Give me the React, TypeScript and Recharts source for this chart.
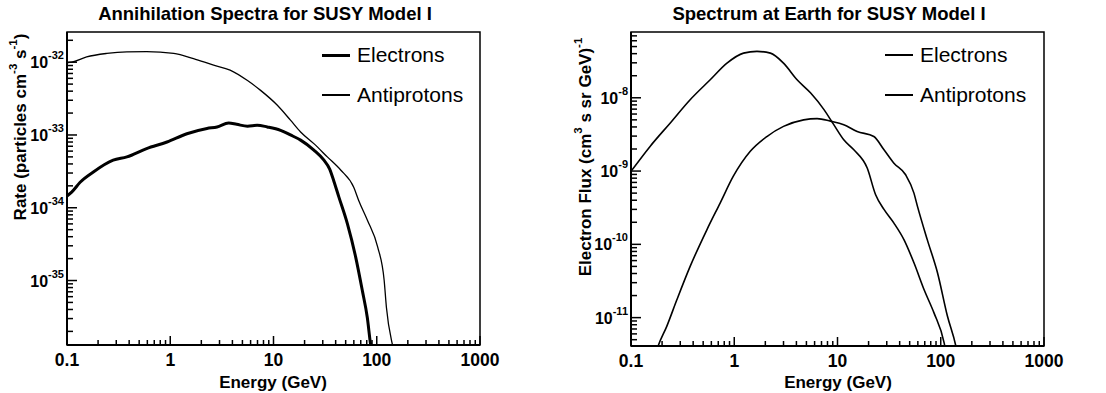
import React from "react"
import { LineChart, Line, XAxis, YAxis, ReferenceArea, Legend } from "recharts"

const FONT = '"Liberation Sans", Arial, Helvetica, sans-serif'

// Annihilation spectra (left panel), energy in GeV, rate in particles cm^-3 s^-1
const annElectronE = [0.1, 0.111, 0.134, 0.18, 0.28, 0.38, 0.59, 0.93, 1.45, 2.27, 2.84, 3.68, 4.4, 5.6, 6.95, 8.7, 11.7, 14.6, 18.3, 24.6, 30.8, 35, 38.5, 43, 52, 62.5, 72.6, 81, 87, 90]
const annElectronRate = [1.45e-34, 1.64e-34, 2.24e-34, 3.1e-34, 4.5e-34, 5.0e-34, 6.5e-34, 8.0e-34, 1.04e-33, 1.23e-33, 1.29e-33, 1.46e-33, 1.4e-33, 1.32e-33, 1.36e-33, 1.29e-33, 1.16e-33, 1.0e-33, 8.5e-34, 6.2e-34, 4.5e-34, 3.4e-34, 2.3e-34, 1.4e-34, 6.0e-35, 2.1e-35, 7.2e-36, 3.1e-36, 1.35e-36, 1.0e-36]
const annAntiprotonE = [0.1, 0.111, 0.155, 0.243, 0.38, 0.59, 1.08, 1.68, 2.63, 3.8, 5.6, 7.5, 10.9, 14.6, 18.3, 24.6, 33.2, 44.7, 60, 67, 81, 102, 118, 124, 142, 148]
const annAntiprotonRate = [9.8e-33, 1.0e-32, 1.18e-32, 1.32e-32, 1.39e-32, 1.4e-32, 1.32e-32, 1.12e-32, 9.1e-33, 7.8e-33, 5.6e-33, 4.1e-33, 2.56e-33, 1.6e-33, 1.1e-33, 7.6e-34, 5.0e-34, 3.3e-34, 1.9e-34, 1.25e-34, 6.8e-35, 2.9e-35, 1.0e-35, 4.3e-36, 1.3e-36, 1.0e-36]

// Spectrum at Earth (right panel), flux in (cm^3 s sr GeV)^-1
const earthElectronE = [0.1, 0.153, 0.239, 0.374, 0.585, 0.85, 1.23, 1.66, 2.24, 3.0, 4.06, 5.5, 7.4, 9.2, 11.5, 14.4, 19.4, 23.4, 28.2, 35.2, 44, 55, 69, 86, 108, 114]
const earthElectronFlux = [9.9e-10, 2.17e-9, 4.5e-9, 9.4e-9, 1.76e-8, 2.97e-8, 4.07e-8, 4.3e-8, 4.07e-8, 2.97e-8, 1.76e-8, 1.16e-8, 6.9e-9, 4.3e-9, 2.67e-9, 1.95e-9, 1.1e-9, 4.75e-10, 3.0e-10, 1.95e-10, 1.16e-10, 5.6e-11, 2.4e-11, 1.16e-11, 4.5e-12, 3.0e-12]
const earthAntiprotonE = [0.17, 0.183, 0.222, 0.278, 0.374, 0.543, 0.73, 0.98, 1.43, 2.07, 3.0, 4.7, 6.35, 8.55, 11.5, 15.5, 22.5, 28.2, 35.2, 45.7, 55, 59.5, 74, 93, 116, 140, 150]
const earthAntiprotonFlux = [3.0e-12, 4.1e-12, 7.6e-12, 1.75e-11, 5.0e-11, 1.58e-10, 3.66e-10, 8.5e-10, 1.86e-9, 2.96e-9, 4.07e-9, 5.0e-9, 5.2e-9, 4.8e-9, 4.3e-9, 3.47e-9, 2.96e-9, 1.95e-9, 1.28e-9, 8.9e-10, 5.0e-10, 3.3e-10, 1.16e-10, 4.1e-11, 1.05e-11, 4.1e-12, 2.5e-12]

const energyDomain = [0.1, 1000]
const annRateDomain = [1.3e-36, 2.6e-32]
const earthFluxDomain = [4.1e-12, 7.9e-8]

const zip = (xs: number[], ys: number[]) => xs.map((e, i) => ({ e, v: ys[i] }))

// log ticks: every m * 10^k inside the range (labels only on decades)
function logTicks(lo: number, hi: number) {
  const out: number[] = []
  for (let k = Math.floor(Math.log10(lo)); k <= Math.ceil(Math.log10(hi)); k++) {
    for (let m = 1; m <= 9; m++) {
      const v = m * Math.pow(10, k)
      if (v >= lo * 0.999 && v <= hi * 1.001) out.push(v)
    }
  }
  return out
}

const isDecade = (v: number) => {
  const l = Math.log10(v)
  return Math.abs(l - Math.round(l)) < 1e-6
}

const energyLabel = (v: number) => (v < 1 ? v.toFixed(1) : String(Math.round(v)))

const XTick = ({ x, y, payload }: any) => {
  const major = isDecade(payload.value)
  return (
    <g>
      <line x1={x} x2={x} y1={y} y2={y - (major ? 9 : 5)} stroke="#000" strokeWidth={1.5} />
      {major && (
        <text x={x} y={y + 21} textAnchor="middle" fontFamily={FONT} fontWeight="bold" fontSize={17.5} fill="#000">
          {energyLabel(payload.value)}
        </text>
      )}
    </g>
  )
}

const YTick = ({ x, y, payload }: any) => {
  const major = isDecade(payload.value)
  return (
    <g>
      <line x1={x} x2={x + (major ? 10 : 6)} y1={y} y2={y} stroke="#000" strokeWidth={1.5} />
      {major && (
        <text x={x - 3} y={y + 6} textAnchor="end" fontFamily={FONT} fontWeight="bold" fontSize={16} fill="#000">
          10
          <tspan dy={-9} fontSize={11}>
            {Math.round(Math.log10(payload.value))}
          </tspan>
        </text>
      )}
    </g>
  )
}

const LegendBox = ({ rows }: { rows: { name: string; w: number }[] }) => (
  <div style={{ fontFamily: FONT, fontSize: 21, color: "#000" }}>
    {rows.map((r) => (
      <div key={r.name} style={{ display: "flex", alignItems: "center", height: 40, whiteSpace: "nowrap" }}>
        <div style={{ width: 28, height: r.w, background: "#000", marginRight: 7 }} />
        <span>{r.name}</span>
      </div>
    ))}
  </div>
)

const Title = ({ text, cx }: { text: string; cx: number }) => (
  <div
    style={{
      position: "absolute",
      left: cx - 250,
      width: 500,
      top: 5,
      textAlign: "center",
      fontFamily: FONT,
      fontWeight: "bold",
      fontSize: 18.5,
      lineHeight: 1,
      color: "#000",
    }}
  >
    {text}
  </div>
)

const sup = (s: string) => (
  <tspan dy={-9} fontSize={11.5}>
    {s}
  </tspan>
)

const EnergyLabel = ({ cx }: { cx: number }) => (
  <text x={cx} y={388} textAnchor="middle" fontFamily={FONT} fontWeight="bold" fontSize={17} fill="#000">
    Energy (GeV)
  </text>
)

export default function App() {
  return (
    <div style={{ position: "absolute", left: 0, top: 0, width: 1106, height: 393, background: "#fff" }}>
      {/* Left: Annihilation spectra */}
      <div style={{ position: "absolute", left: 0, top: 0 }}>
        <LineChart width={550} height={393} margin={{ top: 32, right: 70, bottom: 8, left: 7 }}>
          <XAxis
            dataKey="e"
            type="number"
            scale="log"
            domain={energyDomain}
            allowDataOverflow
            ticks={logTicks(0.1, 1000)}
            interval={0}
            tick={<XTick />}
            tickLine={false}
            tickSize={0}
            tickMargin={0}
            height={40}
            axisLine={{ stroke: "#000", strokeWidth: 2 }}
            label={() => <EnergyLabel cx={273} />}
          />
          <YAxis
            dataKey="v"
            type="number"
            scale="log"
            domain={annRateDomain}
            allowDataOverflow
            ticks={logTicks(annRateDomain[0], annRateDomain[1])}
            interval={0}
            tick={<YTick />}
            tickLine={false}
            tickSize={0}
            tickMargin={0}
            width={60}
            axisLine={{ stroke: "#000", strokeWidth: 2 }}
            label={() => (
              <text
                x={26}
                y={127}
                transform="rotate(-90 26 127)"
                textAnchor="middle"
                fontFamily={FONT}
                fontWeight="bold"
                fontSize={17}
                fill="#000"
              >
                Rate (particles cm{sup("-3")}
                <tspan dy={9}> s</tspan>
                {sup("-1")}
                <tspan dy={9}>)</tspan>
              </text>
            )}
          />
          <ReferenceArea
            x1={energyDomain[0]}
            x2={energyDomain[1]}
            y1={annRateDomain[0]}
            y2={annRateDomain[1]}
            fill="none"
            stroke="#000"
            strokeWidth={1.5}
          />
          <Line
            data={zip(annAntiprotonE, annAntiprotonRate)}
            dataKey="v"
            name="Antiprotons"
            type="monotone"
            stroke="#000"
            strokeWidth={1.3}
            dot={false}
            isAnimationActive={false}
          />
          <Line
            data={zip(annElectronE, annElectronRate)}
            dataKey="v"
            name="Electrons"
            type="monotone"
            stroke="#000"
            strokeWidth={3}
            dot={false}
            isAnimationActive={false}
          />
          <Legend
            layout="vertical"
            align="center"
            verticalAlign="middle"
            wrapperStyle={{ left: 322, top: 35, width: 180 }}
            content={() => (
              <LegendBox
                rows={[
                  { name: "Electrons", w: 3 },
                  { name: "Antiprotons", w: 1.3 },
                ]}
              />
            )}
          />
        </LineChart>
        <Title text="Annihilation Spectra for SUSY Model I" cx={265} />
      </div>

      {/* Right: Spectrum at Earth */}
      <div style={{ position: "absolute", left: 550, top: 0 }}>
        <LineChart width={556} height={393} margin={{ top: 32, right: 62, bottom: 7, left: 21 }}>
          <XAxis
            dataKey="e"
            type="number"
            scale="log"
            domain={energyDomain}
            allowDataOverflow
            ticks={logTicks(0.1, 1000)}
            interval={0}
            tick={<XTick />}
            tickLine={false}
            tickSize={0}
            tickMargin={0}
            height={40}
            axisLine={{ stroke: "#000", strokeWidth: 2 }}
            label={() => <EnergyLabel cx={288} />}
          />
          <YAxis
            dataKey="v"
            type="number"
            scale="log"
            domain={earthFluxDomain}
            allowDataOverflow
            ticks={logTicks(earthFluxDomain[0], earthFluxDomain[1])}
            interval={0}
            tick={<YTick />}
            tickLine={false}
            tickSize={0}
            tickMargin={0}
            width={60}
            axisLine={{ stroke: "#000", strokeWidth: 2 }}
            label={() => (
              <text
                x={41}
                y={157}
                transform="rotate(-90 41 157)"
                textAnchor="middle"
                fontFamily={FONT}
                fontWeight="bold"
                fontSize={17}
                fill="#000"
              >
                Electron Flux (cm{sup("3")}
                <tspan dy={9}> s sr GeV)</tspan>
                {sup("-1")}
              </text>
            )}
          />
          <ReferenceArea
            x1={energyDomain[0]}
            x2={energyDomain[1]}
            y1={earthFluxDomain[0]}
            y2={earthFluxDomain[1]}
            fill="none"
            stroke="#000"
            strokeWidth={1.5}
          />
          <Line
            data={zip(earthElectronE, earthElectronFlux)}
            dataKey="v"
            name="Electrons"
            type="monotone"
            stroke="#000"
            strokeWidth={1.6}
            dot={false}
            isAnimationActive={false}
          />
          <Line
            data={zip(earthAntiprotonE, earthAntiprotonFlux)}
            dataKey="v"
            name="Antiprotons"
            type="monotone"
            stroke="#000"
            strokeWidth={1.6}
            dot={false}
            isAnimationActive={false}
          />
          <Legend
            layout="vertical"
            align="center"
            verticalAlign="middle"
            wrapperStyle={{ left: 335, top: 35, width: 180 }}
            content={() => (
              <LegendBox
                rows={[
                  { name: "Electrons", w: 1.6 },
                  { name: "Antiprotons", w: 1.6 },
                ]}
              />
            )}
          />
        </LineChart>
        <Title text="Spectrum at Earth for SUSY Model I" cx={279} />
      </div>
    </div>
  )
}
